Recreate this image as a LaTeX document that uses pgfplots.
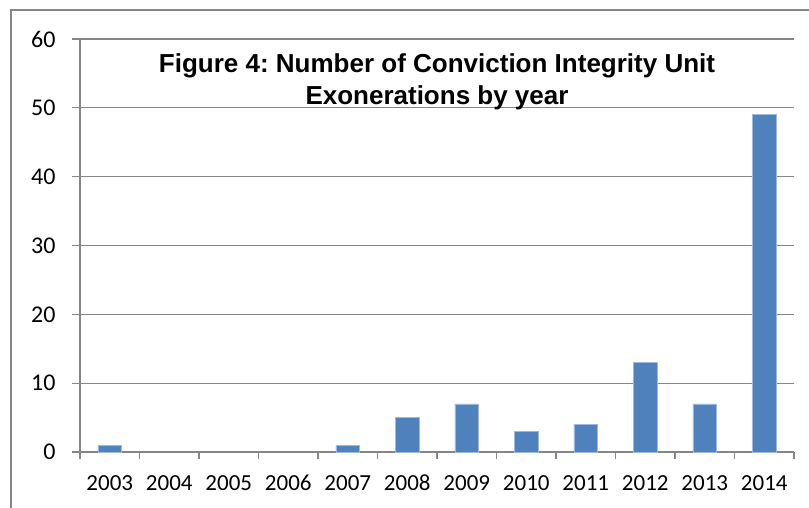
\documentclass[border=0pt]{standalone}
\usepackage{fontspec}
\setmainfont{Carlito}
\newfontfamily\titlefont{Liberation Sans}
\usepackage{pgfplots}
\pgfplotsset{compat=1.18}
\frenchspacing

\definecolor{barblue}{HTML}{4F81BD}
\definecolor{baredge}{HTML}{9DB9DD}
\definecolor{axisgray}{HTML}{868686}

\begin{document}
\begin{tikzpicture}[x=1bp,y=1bp]
\path[use as bounding box] (-80,-56) rectangle (729,452);
\draw[axisgray, line width=1.1bp] (-69,-60) -- (-69,442) -- (735,442);
\begin{axis}[
  scale only axis,
  width=714bp, height=413bp,
  xmin=-0.5, xmax=11.5,
  ymin=0, ymax=60,
  ytick={0,10,...,60},
  xtick={0,...,11},
  xticklabels={2003,2004,2005,2006,2007,2008,2009,2010,2011,2012,2013,2014},
  minor xtick={-0.5,0.5,...,11.5},
  axis x line*=bottom,
  axis y line*=left,
  axis line style={axisgray, line width=1.2bp},
  ymajorgrids,
  grid style={axisgray, line width=1.2bp},
  tick align=outside,
  major tick length=8bp,
  minor tick length=7bp,
  major x tick style={draw=none},
  minor x tick style={axisgray, line width=1.2bp},
  major y tick style={axisgray, line width=1.2bp},
  ticklabel style={text=black},
  yticklabel style={font=\fontsize{24bp}{28bp}\selectfont, xshift=-13bp},
  xticklabel style={font=\fontsize{23bp}{27bp}\selectfont, anchor=base, yshift=-31bp},
  /pgf/number format/assume math mode=true,
  ybar, bar width=0.4,
  clip=false,
]
% years with no exoneration (2004-2006) draw no bar
\addplot[fill=barblue, draw=baredge, line width=0.6bp] coordinates {
  (0,1) (4,1) (5,5) (6,7) (7,3) (8,4) (9,13) (10,7) (11,49)
};
\node[anchor=north, align=center, inner sep=0pt, yshift=-14bp,
  font=\titlefont\bfseries\fontsize{26bp}{32bp}\selectfont]
  at (rel axis cs:0.5,1)
  {Figure 4: Number of Conviction Integrity Unit\\Exonerations by year};
\end{axis}
\end{tikzpicture}
\end{document}
